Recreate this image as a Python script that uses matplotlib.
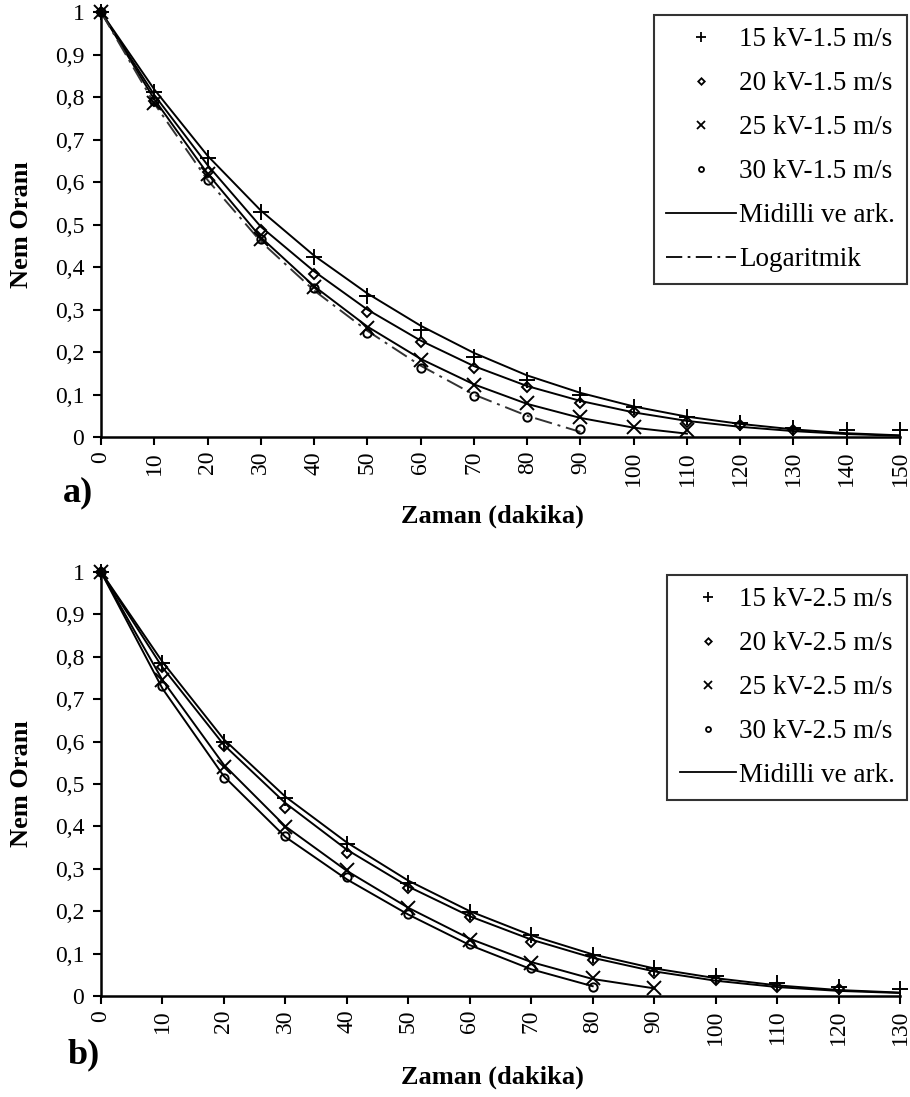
import numpy as np
from matplotlib import pyplot as plt
from matplotlib.lines import Line2D
from matplotlib.ticker import FuncFormatter

plt.rcParams['font.family'] = ['Liberation Serif', 'DejaVu Serif']

# ---- panel a) 1.5 m/s ----
t_a = np.arange(0, 160, 10)
mr_a15 = [1, 0.812, 0.656, 0.53, 0.424, 0.332, 0.252, 0.188, 0.134, 0.099, 0.071, 0.048, 0.033, 0.021, 0.016, 0.016]
mr_a20 = [1, 0.79, 0.624, 0.487, 0.384, 0.295, 0.224, 0.163, 0.118, 0.079, 0.06, 0.036, 0.028, 0.017]
mr_a25 = [1, 0.785, 0.62, 0.465, 0.352, 0.256, 0.182, 0.122, 0.079, 0.047, 0.024, 0.016]
mr_a30 = [1, 0.79, 0.605, 0.465, 0.35, 0.244, 0.162, 0.096, 0.048, 0.019]
# model curves
mid_a15 = [1, 0.818, 0.662, 0.533, 0.427, 0.338, 0.262, 0.198, 0.145, 0.104, 0.072, 0.048, 0.031, 0.018, 0.009, 0.004]
mid_a20 = [1, 0.805, 0.64, 0.495, 0.39, 0.3, 0.227, 0.167, 0.12, 0.085, 0.058, 0.038, 0.024, 0.014, 0.007, 0.003]
mid_a25 = [1, 0.795, 0.62, 0.47, 0.355, 0.26, 0.184, 0.124, 0.078, 0.045, 0.022, 0.008]
log_a30 = [1, 0.785, 0.605, 0.46, 0.345, 0.25, 0.168, 0.1, 0.05, 0.012]
lab_a = ['15 kV-1.5 m/s', '20 kV-1.5 m/s', '25 kV-1.5 m/s', '30 kV-1.5 m/s']

# ---- panel b) 2.5 m/s ----
t_b = np.arange(0, 140, 10)
mr_b15 = [1, 0.785, 0.6, 0.466, 0.358, 0.267, 0.199, 0.144, 0.097, 0.065, 0.047, 0.03, 0.02, 0.017]
mr_b20 = [1, 0.775, 0.59, 0.443, 0.337, 0.254, 0.186, 0.128, 0.086, 0.054, 0.038, 0.022, 0.016]
mr_b25 = [1, 0.745, 0.541, 0.399, 0.297, 0.207, 0.132, 0.077, 0.042, 0.018]
mr_b30 = [1, 0.73, 0.513, 0.377, 0.28, 0.193, 0.123, 0.065, 0.022]
mid_b15 = [1, 0.788, 0.605, 0.47, 0.362, 0.272, 0.2, 0.143, 0.098, 0.065, 0.042, 0.025, 0.014, 0.008]
mid_b20 = [1, 0.775, 0.592, 0.455, 0.345, 0.258, 0.188, 0.133, 0.09, 0.058, 0.036, 0.021, 0.012, 0.007]
mid_b25 = [1, 0.745, 0.545, 0.4, 0.295, 0.208, 0.135, 0.08, 0.04, 0.018]
mid_b30 = [1, 0.725, 0.518, 0.375, 0.275, 0.192, 0.12, 0.063, 0.023]
lab_b = ['15 kV-2.5 m/s', '20 kV-2.5 m/s', '25 kV-2.5 m/s', '30 kV-2.5 m/s']

markers = ['+', 'D', 'x', 'o']
msizes = [11, 5.5, 10, 6]
dashdot = (0, (9, 3, 1.5, 3))


def yfmt(v, pos):
	if abs(v) < 1e-9:
		return '0'
	if abs(v - 1) < 1e-9:
		return '1'
	return ('%.1f' % v).replace('.', ',')


def style_axes(ax, xmax):
	ax.set_xlim(0, xmax)
	ax.set_ylim(0, 1)
	ax.set_xticks(np.arange(0, xmax + 1, 10))
	ax.set_yticks(np.arange(0, 1.01, 0.1))
	ax.yaxis.set_major_formatter(FuncFormatter(yfmt))
	ax.spines['top'].set_visible(False)
	ax.spines['right'].set_visible(False)
	for s in ['left', 'bottom']:
		ax.spines[s].set_linewidth(1.8)
	ax.tick_params(axis='both', direction='out', length=6, width=1.5, labelsize=17, colors='black')
	ax.tick_params(axis='x', labelrotation=90, pad=4)
	ax.tick_params(axis='y', pad=6)
	ax.set_xlabel('Zaman (dakika)', fontsize=19, fontweight='bold')
	ax.set_ylabel('Nem Oranı', fontsize=19, fontweight='bold')
	ax.yaxis.set_label_coords(-0.085, 0.5)


def legend_handles(labels, with_log):
	h = []
	for m, ms, l in zip(markers, msizes, labels):
		h.append(Line2D([], [], ls='none', marker=m, ms=ms * 0.6, mfc='none', mec='black', mew=1.3, label=l))
	h.append(Line2D([], [], color='black', lw=1.3, label='Midilli ve ark.'))
	if with_log:
		h.append(Line2D([], [], color='black', lw=1.3, ls=dashdot, label='Logaritmik'))
	return h


fig = plt.figure(figsize=(9.1, 10.97), dpi=100)
ax1 = fig.add_axes([0.111, 0.6016, 0.8780, 0.3874])
ax2 = fig.add_axes([0.111, 0.0921, 0.8780, 0.3865])

# panel a
mr_a = [mr_a15, mr_a20, mr_a25, mr_a30]
for m, ms, y in zip(markers, msizes, mr_a):
	ax1.plot(t_a[:len(y)], y, ls='none', marker=m, ms=ms, mfc='none', mec='black', mew=1.4, clip_on=False, zorder=3)
for y in [mid_a15, mid_a20, mid_a25]:
	ax1.plot(t_a[:len(y)], y, color='black', lw=1.4, clip_on=False)
ax1.plot(t_a[:len(log_a30)], log_a30, color='#333333', lw=1.4, ls=dashdot, clip_on=False)
style_axes(ax1, 150)
ax1.xaxis.set_label_coords(0.49, -0.16)
leg = ax1.legend(handles=legend_handles(lab_a, True), loc='upper right', bbox_to_anchor=(1.009, 0.993),
	fontsize=19.5, frameon=True, fancybox=False, edgecolor='black', labelspacing=0.7,
	handlelength=2.6, handletextpad=0.1, borderpad=0.45, borderaxespad=0)
leg.get_frame().set_linewidth(1.5)

# panel b
mr_b = [mr_b15, mr_b20, mr_b25, mr_b30]
for m, ms, y in zip(markers, msizes, mr_b):
	ax2.plot(t_b[:len(y)], y, ls='none', marker=m, ms=ms, mfc='none', mec='black', mew=1.4, clip_on=False, zorder=3)
for y in [mid_b15, mid_b20, mid_b25, mid_b30]:
	ax2.plot(t_b[:len(y)], y, color='black', lw=1.4, clip_on=False)
style_axes(ax2, 130)
ax2.xaxis.set_label_coords(0.49, -0.165)
leg = ax2.legend(handles=legend_handles(lab_b, False), loc='upper right', bbox_to_anchor=(1.009, 0.993),
	fontsize=19.5, frameon=True, fancybox=False, edgecolor='black', labelspacing=0.7,
	handlelength=2.1, handletextpad=0.1, borderpad=0.45, borderaxespad=0)
leg.get_frame().set_linewidth(1.5)

fig.text(0.0857, 0.5506, 'a)', fontsize=26, fontweight='bold', ha='center', va='center')
fig.text(0.0923, 0.0383, 'b)', fontsize=26, fontweight='bold', ha='center', va='center')

fig.savefig('out.png', dpi=100)
